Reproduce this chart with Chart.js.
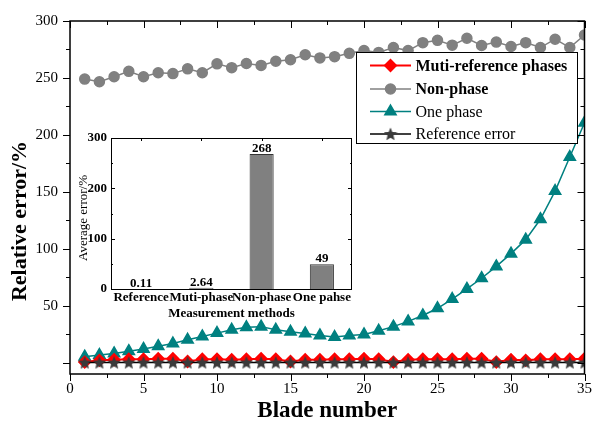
<!DOCTYPE html>
<html>
<head>
<meta charset="utf-8">
<script src="https://cdn.jsdelivr.net/npm/chart.js@4.4.1/dist/chart.umd.min.js"></script>
<style>
  html, body { margin: 0; padding: 0; background: #fff; }
  #wrap { position: relative; width: 598px; height: 428px; }
  #main { position: absolute; left: 0; top: 0; }
  #inset { position: absolute; left: 76px; top: 122px; }
</style>
</head>
<body>
<div id="wrap">
  <canvas id="main" width="598" height="428"></canvas>
  <canvas id="inset" width="280" height="202"></canvas>
</div>
<script>
// main chart data
const bladeNumbers = [1, 2, 3, 4, 5, 6, 7, 8, 9, 10, 11, 12, 13, 14, 15, 16, 17, 18,
  19, 20, 21, 22, 23, 24, 25, 26, 27, 28, 29, 30, 31, 32, 33, 34, 35];
const multiRefPhases = [0.5, 2, 2.5, 3, 3, 3.5, 3.5, 1, 3, 3, 2.5, 3, 3.5, 3, 1, 2.5, 2.5, 3,
  3, 3.5, 3, 0.5, 2.5, 3, 3, 3, 3.5, 3.5, 0.5, 2.5, 2, 3, 3, 3, 3.5];
const nonPhase = [249, 246.6, 251, 255.8, 251, 254.6, 253.8, 258, 254.6, 262.4, 259, 262.7,
  261, 264.7, 266, 270.4, 267.6, 268.7, 271.6, 274, 272.4, 276.7, 274, 281, 283, 278.8,
  284.8, 278.5, 281.5, 277.6, 281, 276.7, 284, 276.7, 287.7];
const onePhase = [5.2, 6.6, 8.1, 10, 12, 14.4, 16.7, 20, 23, 25.9, 28.8, 31, 31.6, 28.8, 27,
  25.6, 23.9, 22.4, 23.9, 24.7, 27.9, 31.6, 36.2, 41.4, 47.7, 55.8, 64.7, 74.1, 84.5, 95.7,
  108, 125.9, 150.6, 180.5, 210.7];
const referenceError = [0.1, 0.12, 0.09, 0.11, 0.13, 0.1, 0.11, 0.12, 0.1, 0.09, 0.11, 0.12,
  0.1, 0.11, 0.13, 0.1, 0.12, 0.11, 0.09, 0.1, 0.12, 0.11, 0.1, 0.13, 0.11, 0.1, 0.12, 0.09,
  0.11, 0.1, 0.12, 0.11, 0.1, 0.12, 0.11];
const seriesNames = ['Muti-reference phases', 'Non-phase', 'One phase', 'Reference error'];

// inset chart data
const methods = ['Reference', 'Muti-phase', 'Non-phase', 'One pahse'];
const averageError = [0.11, 2.64, 268, 49];
const averageLabels = ['0.11', '2.64', '268', '49'];

const FONT = "'Liberation Serif', 'Times New Roman', serif";

// filled five point star used as marker
function makeStar(size, color) {
    const c = document.createElement('canvas');
    c.width = c.height = size;
    const g = c.getContext('2d');
    const r = size / 2, ri = r * 0.45;
    g.beginPath();
    for (let k = 0; k < 10; k++) {
        const ang = -Math.PI / 2 + k * Math.PI / 5;
        const rr = k % 2 ? ri : r;
        g.lineTo(r + rr * Math.cos(ang), r + rr * Math.sin(ang) + 0.5);
    }
    g.closePath();
    g.fillStyle = color;
    g.fill();
    return c;
}
const starImg = makeStar(14, '#3a3a3a');

const toXY = values => values.map((v, i) => ({ x: bladeNumbers[i], y: v }));

// frame, minor/major ticks and legend box for the main plot
const mainDecor = {
    id: 'mainDecor',
    afterDraw(chart) {
        const { ctx, chartArea: a, scales: { x, y } } = chart;
        ctx.save();
        ctx.strokeStyle = '#000';
        ctx.lineWidth = 1.5;
        ctx.strokeRect(a.left, a.top, a.right - a.left, a.bottom - a.top);
        ctx.lineWidth = 1;
        ctx.beginPath();
        for (let v = 0; v <= 35; v += 2.5) {
            const px = Math.round(x.getPixelForValue(v)) + 0.5;
            const len = v % 5 === 0 ? 7 : 4;
            ctx.moveTo(px, a.bottom); ctx.lineTo(px, a.bottom + len);
            ctx.moveTo(px, a.top); ctx.lineTo(px, a.top + len);
        }
        for (let v = 0; v <= 300; v += 25) {
            const py = Math.round(y.getPixelForValue(v)) + 0.5;
            const len = v % 50 === 0 ? 7 : 4;
            ctx.moveTo(a.left, py); ctx.lineTo(a.left - len, py);
            ctx.moveTo(a.right, py); ctx.lineTo(a.right - len, py);
        }
        ctx.stroke();

        // y axis title
        ctx.save();
        ctx.translate(20, 221);
        ctx.rotate(-Math.PI / 2);
        ctx.font = 'bold 22px ' + FONT;
        ctx.fillStyle = '#000';
        ctx.textAlign = 'center';
        ctx.textBaseline = 'middle';
        ctx.fillText('Relative error/%', 0, 0);
        ctx.restore();

        // legend
        const box = { left: 356, top: 52, right: 577, bottom: 143 };
        ctx.fillStyle = '#fff';
        ctx.fillRect(box.left, box.top, box.right - box.left, box.bottom - box.top);
        ctx.strokeStyle = '#000';
        ctx.lineWidth = 1;
        ctx.strokeRect(box.left + 0.5, box.top + 0.5, box.right - box.left, box.bottom - box.top);
        const rows = [65.5, 89, 111.5, 134];
        chart.data.datasets.forEach((ds, i) => {
            const yy = rows[i];
            ctx.strokeStyle = ds.borderColor;
            ctx.lineWidth = ds.borderWidth;
            ctx.beginPath();
            ctx.moveTo(370, yy); ctx.lineTo(411, yy);
            ctx.stroke();
            ctx.fillStyle = ds.pointBackgroundColor;
            ctx.strokeStyle = ds.pointBorderColor;
            Chart.helpers.drawPoint(ctx, {
                pointStyle: ds.pointStyle, radius: ds.pointRadius, rotation: 0, borderWidth: 1
            }, 390.5, yy);
            ctx.fillStyle = '#000';
            ctx.font = (i < 2 ? 'bold ' : '') + '16px ' + FONT;
            ctx.textAlign = 'left';
            ctx.textBaseline = 'middle';
            ctx.fillText(seriesNames[i], 415.5, yy + 1);
        });
        ctx.restore();
    }
};

new Chart(document.getElementById('main'), {
    type: 'line',
    data: {
        datasets: [
            {
                label: seriesNames[0], data: toXY(multiRefPhases), order: 1,
                borderColor: '#ff0000', borderWidth: 2,
                pointStyle: 'rectRot', pointRadius: 5.5,
                pointBackgroundColor: '#ff0000', pointBorderColor: '#ff0000'
            },
            {
                label: seriesNames[1], data: toXY(nonPhase), order: 3,
                borderColor: '#808080', borderWidth: 1.5,
                pointStyle: 'circle', pointRadius: 5,
                pointBackgroundColor: '#808080', pointBorderColor: '#808080'
            },
            {
                label: seriesNames[2], data: toXY(onePhase), order: 2,
                borderColor: '#008080', borderWidth: 1.5,
                pointStyle: 'triangle', pointRadius: 6.5,
                pointBackgroundColor: '#008080', pointBorderColor: '#008080'
            },
            {
                label: seriesNames[3], data: toXY(referenceError), order: 0,
                borderColor: '#000000', borderWidth: 1.5,
                pointStyle: starImg, pointRadius: 7,
                pointBackgroundColor: '#3a3a3a', pointBorderColor: '#3a3a3a'
            }
        ]
    },
    options: {
        responsive: false,
        animation: false,
        layout: { padding: { top: 15, right: 7, left: 0, bottom: 0 } },
        plugins: { legend: { display: false }, tooltip: { enabled: false } },
        scales: {
            x: {
                type: 'linear', min: 0, max: 35,
                grid: { display: false, drawTicks: false },
                border: { display: false },
                ticks: { stepSize: 5, padding: 6, color: '#000', font: { family: FONT, size: 15 } },
                title: {
                    display: true, text: 'Blade number', color: '#000',
                    font: { family: FONT, size: 23, weight: 'bold' },
                    padding: { top: 0, bottom: 3 }
                },
                afterFit: scale => { scale.height = 54; }
            },
            y: {
                min: -10, max: 300,
                grid: { display: false, drawTicks: false },
                border: { display: false },
                ticks: { stepSize: 50, padding: 12, color: '#000', font: { family: FONT, size: 15 } },
                afterBuildTicks: scale => { scale.ticks = scale.ticks.filter(t => t.value >= 0); },
                afterFit: scale => { scale.width = 70; }
            }
        }
    },
    plugins: [mainDecor]
});

// inset: frame, ticks and value labels above the bars
const insetDecor = {
    id: 'insetDecor',
    afterDraw(chart) {
        const { ctx, chartArea: a, scales: { x, y } } = chart;
        ctx.save();
        ctx.strokeStyle = '#000';
        ctx.lineWidth = 1;
        ctx.strokeRect(a.left + 0.5, a.top + 0.5, a.right - a.left - 1, a.bottom - a.top);
        ctx.beginPath();
        for (let v = 0; v <= 300; v += 50) {
            const py = Math.round(y.getPixelForValue(v)) + 0.5;
            const len = v % 100 === 0 ? 4 : 2;
            ctx.moveTo(a.left, py); ctx.lineTo(a.left + len, py);
            ctx.moveTo(a.right, py); ctx.lineTo(a.right - len, py);
        }
        methods.forEach((m, i) => {
            const px = Math.round(x.getPixelForValue(i)) + 0.5;
            ctx.moveTo(px, a.top); ctx.lineTo(px, a.top + 3);
        });
        ctx.stroke();

        ctx.fillStyle = '#000';
        ctx.font = 'bold 13px ' + FONT;
        ctx.textAlign = 'center';
        ctx.textBaseline = 'alphabetic';
        chart.getDatasetMeta(0).data.forEach((bar, i) => {
            ctx.fillText(averageLabels[i], bar.x, bar.y - 2);
        });

        // y title
        ctx.save();
        ctx.translate(8, 96);
        ctx.rotate(-Math.PI / 2);
        ctx.font = '13px ' + FONT;
        ctx.textAlign = 'center';
        ctx.textBaseline = 'middle';
        ctx.fillText('Average error/%', 0, 0);
        ctx.restore();
        ctx.restore();
    }
};

new Chart(document.getElementById('inset'), {
    type: 'bar',
    data: {
        labels: methods,
        datasets: [{
            data: averageError,
            backgroundColor: '#808080',
            borderColor: '#333333',
            borderWidth: 1,
            categoryPercentage: 1,
            barPercentage: 0.4
        }]
    },
    options: {
        responsive: false,
        animation: false,
        layout: { padding: { top: 16, right: 4, left: 0, bottom: 0 } },
        plugins: { legend: { display: false }, tooltip: { enabled: false } },
        scales: {
            x: {
                grid: { display: false, drawTicks: false },
                border: { display: false },
                ticks: {
                    padding: 1, maxRotation: 0, autoSkip: false, color: '#000',
                    font: { family: FONT, size: 13, weight: 'bold' }
                },
                title: {
                    display: true, text: 'Measurement methods', color: '#000',
                    font: { family: FONT, size: 13, weight: 'bold' },
                    padding: { top: 0, bottom: 3 }
                },
                afterFit: scale => { scale.height = 35; }
            },
            y: {
                min: 0, max: 300,
                grid: { display: false, drawTicks: false },
                border: { display: false },
                ticks: {
                    stepSize: 100, padding: 4, color: '#000',
                    font: { family: FONT, size: 13, weight: 'bold' }
                },
                afterFit: scale => { scale.width = 35; }
            }
        }
    },
    plugins: [insetDecor]
});
</script>
</body>
</html>
